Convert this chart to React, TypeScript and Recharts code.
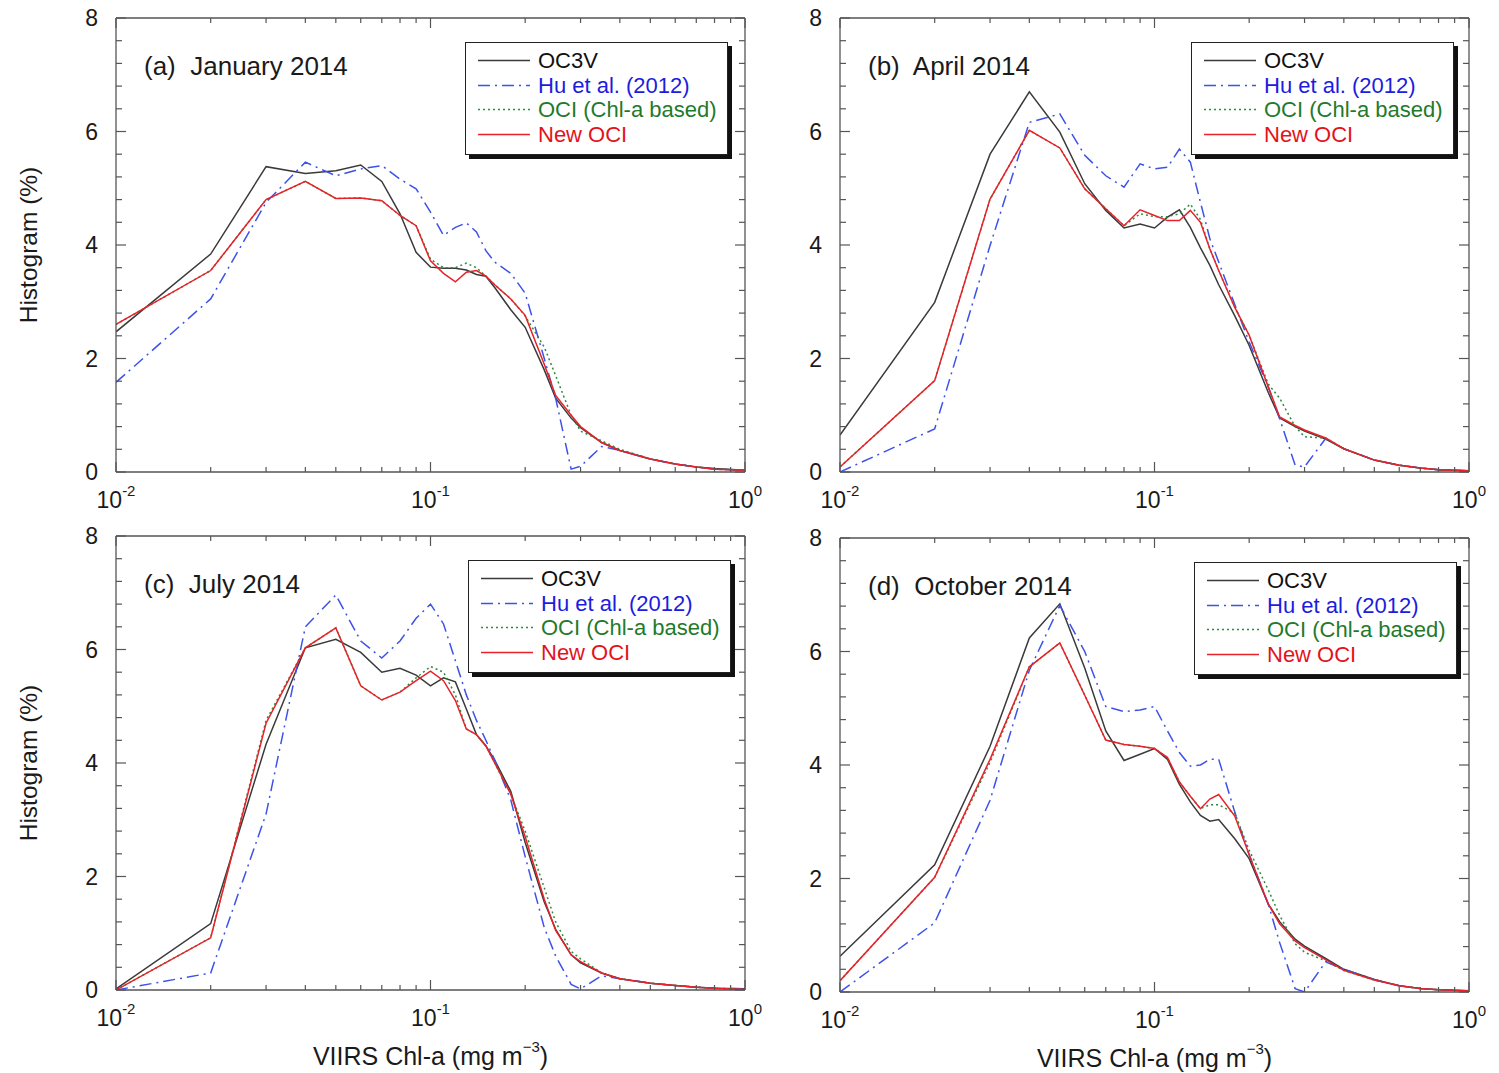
import React from 'react';
import { LineChart, Line, XAxis, YAxis, Legend, Label } from 'recharts';

// Chlorophyll bin centres (mg m^-3), shared by every series
const CHL = [
  0.01, 0.02, 0.03, 0.04, 0.05, 0.06, 0.07, 0.08, 0.09, 0.1, 0.11, 0.12, 0.13, 0.14, 0.15,
  0.16, 0.18, 0.2, 0.23, 0.25, 0.28, 0.3, 0.35, 0.4, 0.5, 0.6, 0.7, 0.8, 1.0,
];

// (a) January 2014
const JAN_OC3V = [2.47, 3.84, 5.38, 5.26, 5.31, 5.41, 5.12, 4.55, 3.87, 3.61, 3.59, 3.59, 3.56, 3.48, 3.45, 3.25, 2.86, 2.55, 1.8, 1.3, 0.95, 0.78, 0.52, 0.38, 0.23, 0.14, 0.09, 0.06, 0.03];
const JAN_HU = [1.58, 3.05, 4.75, 5.46, 5.22, 5.34, 5.4, 5.16, 4.99, 4.58, 4.17, 4.31, 4.39, 4.23, 3.9, 3.7, 3.5, 3.15, 2.0, 1.3, 0.05, 0.1, 0.45, 0.38, 0.23, 0.14, 0.09, 0.05, 0.03];
const JAN_OCI = [2.6, 3.55, 4.8, 5.12, 4.82, 4.83, 4.78, 4.52, 4.34, 3.75, 3.6, 3.6, 3.68, 3.6, 3.45, 3.3, 3.05, 2.75, 2.2, 1.7, 1.0, 0.72, 0.55, 0.4, 0.23, 0.14, 0.09, 0.05, 0.03];
const JAN_NEW = [2.6, 3.55, 4.8, 5.12, 4.82, 4.83, 4.78, 4.52, 4.34, 3.72, 3.5, 3.35, 3.52, 3.55, 3.45, 3.3, 3.05, 2.76, 1.9, 1.35, 1.0, 0.8, 0.52, 0.38, 0.23, 0.14, 0.09, 0.05, 0.03];

// (b) April 2014
const APR_OC3V = [0.65, 2.99, 5.6, 6.7, 5.99, 5.08, 4.61, 4.3, 4.37, 4.3, 4.49, 4.62, 4.31, 3.95, 3.64, 3.3, 2.75, 2.23, 1.4, 0.95, 0.8, 0.72, 0.58, 0.41, 0.21, 0.12, 0.07, 0.04, 0.02];
const APR_HU = [0.0, 0.76, 3.99, 6.16, 6.31, 5.58, 5.22, 5.02, 5.43, 5.34, 5.37, 5.69, 5.46, 4.75, 4.11, 3.7, 2.95, 2.29, 1.5, 0.94, 0.12, 0.09, 0.59, 0.41, 0.21, 0.12, 0.07, 0.04, 0.02];
const APR_OCI = [0.09, 1.61, 4.81, 6.02, 5.71, 4.99, 4.64, 4.34, 4.55, 4.5, 4.5, 4.55, 4.72, 4.45, 3.93, 3.55, 2.9, 2.41, 1.55, 1.3, 0.8, 0.62, 0.6, 0.41, 0.21, 0.12, 0.07, 0.04, 0.02];
const APR_NEW = [0.09, 1.61, 4.81, 6.02, 5.71, 4.99, 4.64, 4.34, 4.62, 4.52, 4.43, 4.43, 4.61, 4.4, 3.93, 3.55, 2.9, 2.41, 1.5, 0.97, 0.82, 0.74, 0.6, 0.41, 0.21, 0.12, 0.07, 0.04, 0.02];

// (c) July 2014
const JUL_OC3V = [0.02, 1.17, 4.33, 6.03, 6.18, 5.95, 5.6, 5.67, 5.55, 5.36, 5.5, 5.43, 4.95, 4.5, 4.3, 4.05, 3.5, 2.6, 1.55, 1.07, 0.62, 0.48, 0.3, 0.2, 0.12, 0.08, 0.05, 0.03, 0.02];
const JUL_HU = [0.0, 0.3, 3.1, 6.4, 6.96, 6.15, 5.85, 6.15, 6.55, 6.8, 6.45, 5.8, 5.2, 4.75, 4.4, 4.05, 3.35, 2.35, 1.1, 0.6, 0.1, 0.02, 0.25, 0.2, 0.12, 0.08, 0.05, 0.03, 0.02];
const JUL_OCI = [0.0, 0.92, 4.75, 6.03, 6.38, 5.36, 5.11, 5.25, 5.5, 5.7, 5.6, 5.2, 4.6, 4.5, 4.3, 4.0, 3.45, 2.8, 1.8, 1.2, 0.68, 0.55, 0.3, 0.2, 0.12, 0.08, 0.05, 0.03, 0.01];
const JUL_NEW = [0.0, 0.92, 4.7, 6.03, 6.38, 5.36, 5.11, 5.25, 5.45, 5.62, 5.45, 5.1, 4.6, 4.5, 4.3, 4.0, 3.45, 2.7, 1.6, 1.05, 0.62, 0.5, 0.3, 0.2, 0.12, 0.08, 0.05, 0.03, 0.01];

// (d) October 2014
const OCT_OC3V = [0.63, 2.24, 4.33, 6.24, 6.84, 5.71, 4.6, 4.08, 4.19, 4.29, 4.1, 3.66, 3.35, 3.11, 3.01, 3.04, 2.7, 2.35, 1.55, 1.24, 0.93, 0.81, 0.59, 0.4, 0.22, 0.11, 0.06, 0.04, 0.02];
const OCT_HU = [0.0, 1.22, 3.38, 5.67, 6.81, 6.0, 5.03, 4.94, 4.97, 5.03, 4.6, 4.22, 3.98, 4.0, 4.1, 4.1, 3.17, 2.42, 1.55, 0.87, 0.06, 0.0, 0.53, 0.4, 0.22, 0.11, 0.06, 0.04, 0.02];
const OCT_OCI = [0.2, 2.02, 4.05, 5.73, 6.15, 5.23, 4.44, 4.36, 4.33, 4.29, 4.13, 3.7, 3.45, 3.23, 3.3, 3.3, 3.15, 2.5, 1.8, 1.35, 0.85, 0.7, 0.55, 0.38, 0.21, 0.11, 0.06, 0.04, 0.02];
const OCT_NEW = [0.2, 2.02, 4.1, 5.73, 6.15, 5.23, 4.44, 4.36, 4.33, 4.29, 4.13, 3.7, 3.45, 3.23, 3.4, 3.48, 3.1, 2.42, 1.55, 1.2, 0.9, 0.78, 0.57, 0.38, 0.21, 0.11, 0.06, 0.04, 0.02];

const X_TICKS = [0.01, 0.02, 0.03, 0.04, 0.05, 0.06, 0.07, 0.08, 0.09, 0.1, 0.2, 0.3, 0.4, 0.5, 0.6, 0.7, 0.8, 0.9, 1];
const Y_TICKS = [0, 0.4, 0.8, 1.2, 1.6, 2, 2.4, 2.8, 3.2, 3.6, 4, 4.4, 4.8, 5.2, 5.6, 6, 6.4, 6.8, 7.2, 7.6, 8];
const Y_LABELS = [0, 2, 4, 6, 8];

const FONT = '"Liberation Sans", Arial, Helvetica, sans-serif';
const FRAME = '#555555';
const INK = '#1a1a1a';

const SERIES = [
  { key: 'oc3v', name: 'OC3V', color: '#3a3a3a', text: '#111111', dash: undefined },
  { key: 'hu', name: 'Hu et al. (2012)', color: '#3d52e8', text: '#1c1ce0', dash: '12 5 2 5' },
  { key: 'oci', name: 'OCI (Chl-a based)', color: '#2e8a3c', text: '#1f7a2c', dash: '2 3' },
  { key: 'newOci', name: 'New OCI', color: '#e8222a', text: '#e3131b', dash: undefined },
];

const PANELS = [
  { tag: '(a)', title: 'January 2014', left: 0, top: 0, values: [JAN_OC3V, JAN_HU, JAN_OCI, JAN_NEW], yTitle: true, xTitle: false, legendLeft: 465 },
  { tag: '(b)', title: 'April 2014', left: 724, top: 0, values: [APR_OC3V, APR_HU, APR_OCI, APR_NEW], yTitle: false, xTitle: false, legendLeft: 467 },
  { tag: '(c)', title: 'July 2014', left: 0, top: 518, values: [JUL_OC3V, JUL_HU, JUL_OCI, JUL_NEW], yTitle: true, xTitle: true, legendLeft: 468 },
  { tag: '(d)', title: 'October 2014', left: 724, top: 520, values: [OCT_OC3V, OCT_HU, OCT_OCI, OCT_NEW], yTitle: false, xTitle: true, legendLeft: 470 },
];

const isDecade = (v: number) => Math.abs(Math.log10(v) - Math.round(Math.log10(v))) < 1e-6;

function BottomTick(props: any) {
  const { x, y, payload } = props;
  const v = payload.value;
  const major = isDecade(v);
  return (
    <g>
      <line x1={x} x2={x} y1={y} y2={y - (major ? 10 : 5)} stroke={FRAME} strokeWidth={1.2} />
      {major && (
        <text x={x} y={y + 36} textAnchor="middle" fontSize={23} fontFamily={FONT} fill={INK}>
          10
          <tspan dy={-12} fontSize={15}>
            {String(Math.round(Math.log10(v)))}
          </tspan>
        </text>
      )}
    </g>
  );
}

function TopTick(props: any) {
  const { x, y, payload } = props;
  const major = isDecade(payload.value);
  return <line x1={x} x2={x} y1={y} y2={y + (major ? 10 : 5)} stroke={FRAME} strokeWidth={1.2} />;
}

function LeftTick(props: any) {
  const { x, y, payload } = props;
  const v = payload.value;
  const major = Y_LABELS.includes(v);
  return (
    <g>
      <line x1={x} x2={x + (major ? 10 : 6)} y1={y} y2={y} stroke={FRAME} strokeWidth={1.2} />
      {major && (
        <text x={x - 18} y={y + 8} textAnchor="end" fontSize={23} fontFamily={FONT} fill={INK}>
          {v}
        </text>
      )}
    </g>
  );
}

function RightTick(props: any) {
  const { x, y, payload } = props;
  const major = Y_LABELS.includes(payload.value);
  return <line x1={x} x2={x - (major ? 10 : 6)} y1={y} y2={y} stroke={FRAME} strokeWidth={1.2} />;
}

function HistogramTitle(props: any) {
  const { viewBox } = props;
  const cx = viewBox.x + viewBox.width - 79;
  const cy = viewBox.y + viewBox.height / 2;
  return (
    <text
      x={cx}
      y={cy}
      transform={`rotate(-90 ${cx} ${cy})`}
      textAnchor="middle"
      fontSize={24.5}
      fontFamily={FONT}
      fill={INK}
    >
      Histogram (%)
    </text>
  );
}

function ChlTitle(props: any) {
  const { viewBox } = props;
  const cx = viewBox.x + viewBox.width / 2;
  return (
    <text x={cx} y={viewBox.y + 75} textAnchor="middle" fontSize={25} fontFamily={FONT} fill={INK}>
      VIIRS Chl-a (mg m
      <tspan dy={-13} fontSize={15}>
        −3
      </tspan>
      <tspan dy={13}>)</tspan>
    </text>
  );
}

function LegendBox({ payload }: { payload?: any[] }) {
  // keep the plotting order rather than the library's sorted order
  const items = SERIES.map((s) => ({ s, entry: (payload || []).find((e) => e.dataKey === s.key) })).filter(
    (d) => d.entry,
  );
  return (
    <div
      style={{
        position: 'relative',
        width: 263,
        height: 113,
        boxSizing: 'border-box',
        border: '1.5px solid #222',
        boxShadow: '4px 4px 0 #111',
        background: '#fff',
        fontFamily: FONT,
      }}
    >
      {items.map(({ s, entry }, i) => (
        <div
          key={s.key}
          style={{ position: 'absolute', left: 0, top: 5 + i * 24.7, height: 25, display: 'flex', alignItems: 'center' }}
        >
          <svg width={70} height={25}>
            <line x1={12} x2={64} y1={12.5} y2={12.5} stroke={s.color} strokeWidth={1.6} strokeDasharray={s.dash} />
          </svg>
          <span style={{ fontSize: 22, color: s.text, lineHeight: '25px', marginLeft: 2, whiteSpace: 'nowrap' }}>
            {entry.value}
          </span>
        </div>
      ))}
    </div>
  );
}

function Panel({ panel }: { panel: (typeof PANELS)[number] }) {
  const rows = CHL.map((x, i) => {
    const row: Record<string, number> = { x };
    SERIES.forEach((s, k) => {
      row[s.key] = panel.values[k][i];
    });
    return row;
  });

  const axisLine = { stroke: FRAME, strokeWidth: 1.3 };

  return (
    <div style={{ position: 'absolute', left: panel.left, top: panel.top, width: 775, height: 555 }}>
      <LineChart width={775} height={555} data={rows} margin={{ top: 17, left: 115, right: 29, bottom: 82 }}>
        <XAxis
          dataKey="x"
          type="number"
          scale="log"
          domain={[0.01, 1]}
          allowDataOverflow
          ticks={X_TICKS}
          interval={0}
          height={1}
          tickSize={0}
          tickMargin={0}
          tickLine={false}
          axisLine={axisLine}
          tick={<BottomTick />}
        >
          {panel.xTitle && <Label content={<ChlTitle />} />}
        </XAxis>
        <XAxis
          xAxisId="top"
          orientation="top"
          dataKey="x"
          type="number"
          scale="log"
          domain={[0.01, 1]}
          allowDataOverflow
          ticks={X_TICKS}
          interval={0}
          height={1}
          tickSize={0}
          tickMargin={0}
          tickLine={false}
          axisLine={axisLine}
          tick={<TopTick />}
        />
        <YAxis
          type="number"
          domain={[0, 8]}
          allowDataOverflow
          ticks={Y_TICKS}
          interval={0}
          width={1}
          tickSize={0}
          tickMargin={0}
          tickLine={false}
          axisLine={axisLine}
          tick={<LeftTick />}
        >
          {panel.yTitle && <Label content={<HistogramTitle />} />}
        </YAxis>
        <YAxis
          yAxisId="right"
          orientation="right"
          type="number"
          domain={[0, 8]}
          allowDataOverflow
          ticks={Y_TICKS}
          interval={0}
          width={1}
          tickSize={0}
          tickMargin={0}
          tickLine={false}
          axisLine={axisLine}
          tick={<RightTick />}
        />
        {SERIES.map((s) => (
          <Line
            key={s.key}
            type="linear"
            dataKey={s.key}
            name={s.name}
            stroke={s.color}
            strokeWidth={1.5}
            strokeDasharray={s.dash}
            dot={false}
            activeDot={false}
            isAnimationActive={false}
          />
        ))}
        <Legend
          layout="vertical"
          align="center"
          verticalAlign="middle"
          wrapperStyle={{ left: panel.legendLeft, top: 42, width: 263, height: 113 }}
          content={(lp: any) => <LegendBox payload={lp.payload} />}
        />
      </LineChart>
      <div
        style={{
          position: 'absolute',
          left: 144,
          top: 50,
          fontSize: 26,
          lineHeight: '32px',
          fontFamily: FONT,
          color: INK,
          whiteSpace: 'pre',
        }}
      >
        {`${panel.tag}  ${panel.title}`}
      </div>
    </div>
  );
}

export default function App() {
  return (
    <div style={{ position: 'absolute', left: 0, top: 0, width: 1499, height: 1073, background: '#fff', overflow: 'hidden' }}>
      {PANELS.map((p) => (
        <Panel key={p.tag} panel={p} />
      ))}
    </div>
  );
}
